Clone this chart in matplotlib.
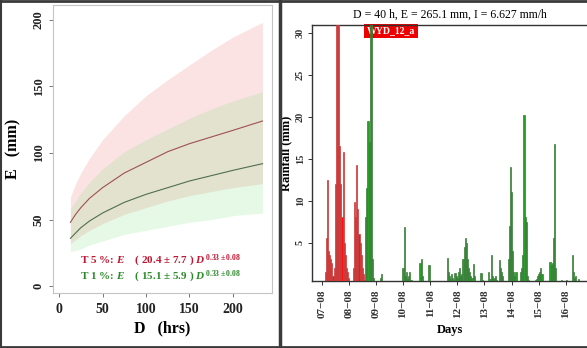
import numpy as np
import matplotlib
matplotlib.use("Agg")
import matplotlib.pyplot as plt
from matplotlib.lines import Line2D

plt.rcParams['font.family'] = 'Liberation Serif'
plt.rcParams['font.weight'] = 'bold'
plt.rcParams['mathtext.fontset'] = 'custom'
plt.rcParams['mathtext.rm'] = 'Liberation Serif:bold'
plt.rcParams['mathtext.it'] = 'Liberation Serif:italic:bold'
plt.rcParams['mathtext.bf'] = 'Liberation Serif:bold'

# ---- left panel: ED thresholds
dur = [13, 19, 25, 35, 50, 75, 100, 125, 150, 175, 200, 234]
t5_mid = [48, 54, 59, 66, 74, 85, 93, 101, 107, 112, 117, 124]
t5_up = [67, 77, 85, 96, 110, 128, 143, 155, 166, 177, 187, 198]
t5_lo = [32, 35, 38, 42, 47, 54, 59, 64, 68, 71, 74, 77]
t1_mid = [36, 40, 44, 49, 55, 63, 69, 74, 79, 83, 87, 92]
t1_up = [58, 64, 70, 78, 88, 101, 110, 118, 126, 133, 139, 146]
t1_lo = [26, 27, 28, 31, 34, 39, 42, 45, 48, 50, 53, 55]

# ---- right panel: hourly rainfall, hours after 07-08 00:00
red_hours = [3, 4, 5, 6, 7, 8, 9, 10,
             11, 12, 13, 14, 15, 16, 17, 18, 19, 20, 21, 22, 23, 24,
             28, 29, 30, 31, 32, 33, 34, 35, 36, 37, 38]
red_mm = [1.5, 5.5, 12.5, 4, 3.5, 3, 2.5, 1,
          2, 12, 34, 36, 33, 16.5, 12, 8, 15.8, 5, 3.5, 2, 1.5, 0.8,
          2, 9.8, 8, 14.3, 9, 6, 5, 3.5, 2, 1.2, 0.5]
green_hours = [39, 40, 41, 42, 43, 44, 45, 46, 52, 53,
               72, 73, 74, 75, 76, 77, 78, 79, 87, 88, 89, 95, 96, 102,
               111, 112, 113, 114, 115, 116, 117, 118, 119, 120, 121, 122, 123,
               124, 125, 126, 127, 128, 129, 130, 131, 132, 133, 134, 135,
               141, 142, 148, 149, 150, 151, 152, 153, 154, 155, 157, 158, 159, 160,
               165, 166, 167, 168, 169, 170, 171, 172,
               176, 177, 178, 179, 180, 181, 182, 183,
               189, 190, 191, 192, 193, 194, 195,
               202, 203, 204, 205, 206, 207,
               212, 214, 217, 222, 223, 224, 225, 227]
green_mm = [8, 11.5, 19.5, 17, 34, 33, 3, 0.8, 0.8, 1.2,
            2, 6.9, 1, 1.5, 0.6, 1, 1.5, 0.5, 2.5, 3, 1, 2.3, 0.4, 0.3,
            3.2, 1.5, 1, 0.6, 1.2, 0.8, 0.5, 1.3, 1, 0.7, 1.5, 2, 1,
            1.2, 3, 4.5, 5.6, 5, 3, 2, 1.5, 1, 0.8, 2.4, 1,
            1.3, 0.5, 1.5, 0.6, 3.5, 1, 0.6, 0.8, 1, 0.5, 2.9, 2, 1.5, 1,
            3, 7, 14, 11, 4, 1.5, 1, 1.5,
            1.5, 2, 3.5, 20.3, 8, 7.5, 1, 0.5,
            0.5, 0.6, 1, 1.2, 1.5, 2, 1.2,
            2.7, 2.3, 2.5, 5.5, 16.8, 2,
            0.5, 0.3, 0.5, 3.5, 1.5, 0.8, 1, 0.6]
day_ticks = [0, 24, 48, 72, 96, 120, 144, 168, 192, 216]
day_labels = ['07\u221208', '08\u221208', '09\u221208', '10\u221208', '11\u221208',
              '12\u221208', '13\u221208', '14\u221208', '15\u221208', '16\u221208']

fig = plt.figure(figsize=(5.87, 3.48), dpi=100)

# ---------------- left panel
ax = fig.add_axes([0.0903, 0.158, 0.3731, 0.8276])
ax.fill_between(dur, t5_lo, t5_up, color='#f08080', alpha=0.22, lw=0)
ax.fill_between(dur, t1_lo, t1_up, color='#78e078', alpha=0.18, lw=0)
ax.plot(dur, t5_mid, color='#a05050', lw=0.8)
ax.plot(dur, t1_mid, color='#4f6f4f', lw=0.8)
ax.set_xlim(-7, 245)
ax.set_ylim(-5, 211)
ax.set_xticks([0, 50, 100, 150, 200])
ax.set_yticks([0, 50, 100, 150, 200])
for s in ax.spines.values():
    s.set_color('#c4c4c4')
    s.set_linewidth(0.8)
ax.tick_params(axis='both', colors='#777777', length=3, width=0.7, direction='out')
ax.tick_params(axis='x', labelsize=10, labelcolor='#222222', pad=4)
ax.tick_params(axis='y', labelsize=9, labelcolor='#222222', pad=3)
for lab in ax.get_yticklabels():
    lab.set_rotation(90)
    lab.set_va('center')
ax.set_xlabel('D   (hrs)', fontsize=11.5, fontweight='bold', labelpad=3)
ax.set_ylabel('E   (mm)', fontsize=11.5, fontweight='bold', labelpad=8)
ax.text(0.123, 0.103, r'T 5 %: $E$    ( 20.4 ± 7.7 ) $D^{\,0.33 \pm 0.08}$',
        transform=ax.transAxes, fontsize=8, color='#c01530', va='baseline')
ax.text(0.123, 0.048, r'T 1 %: $E$    ( 15.1 ± 5.9 ) $D^{\,0.33 \pm 0.08}$',
        transform=ax.transAxes, fontsize=8, color='#2a8a2a', va='baseline')

# ---------------- right panel
ax2 = fig.add_axes([0.5315, 0.1925, 0.4685, 0.7357])
ax2.bar(red_hours, red_mm, width=1.0, color='#ff1010', edgecolor='#c04040',
        linewidth=0.5, zorder=3)
ax2.bar(green_hours, green_mm, width=1.0, color='#24a024', edgecolor='#3a7a3a',
        linewidth=0.5, zorder=3)
ax2.set_xlim(-8.6, 234.8)
ax2.set_ylim(0.4, 31)
ax2.set_xticks(day_ticks)
ax2.set_xticklabels(day_labels, rotation=90)
ax2.set_yticks([5, 10, 15, 20, 25, 30])
ax2.spines['right'].set_visible(False)
for k in ['left', 'bottom', 'top']:
    ax2.spines[k].set_color('#333333')
    ax2.spines[k].set_linewidth(1.0)
ax2.tick_params(axis='both', colors='#333333', length=3, width=0.7)
ax2.tick_params(axis='x', labelsize=8, pad=3)
ax2.tick_params(axis='y', labelsize=7.5, pad=2)
for lab in ax2.get_yticklabels():
    lab.set_rotation(90)
    lab.set_va('center')
ax2.set_xlabel('Days', fontsize=9, fontweight='bold', labelpad=4)
ax2.set_ylabel('Rainfall (mm)', fontsize=9, fontweight='bold', labelpad=3)
ax2.set_title('D = 40 h, E = 265.1 mm, I = 6.627 mm/h', fontsize=8.5,
              fontweight='normal', pad=5)
ax2.text(40, 30.3, 'WYD_12_a', fontsize=7, color='white', va='center', ha='left',
         zorder=2, bbox=dict(boxstyle='square,pad=0.25', fc='#ee0000', ec='none'))

# panel frames
def hline(x0, x1, y, lw):
    fig.add_artist(Line2D([x0 / 587, x1 / 587], [1 - y / 348, 1 - y / 348],
                          color='#3a3a3a', lw=lw))

def vline(x, y0, y1, lw):
    fig.add_artist(Line2D([x / 587, x / 587], [1 - y0 / 348, 1 - y1 / 348],
                          color='#3a3a3a', lw=lw))

hline(0, 587, 1, 2.0)
hline(0, 587, 346.5, 2.0)
vline(1, 0, 348, 1.5)
vline(279.5, 0, 348, 2.5)

fig.savefig('out.png', dpi=100)
